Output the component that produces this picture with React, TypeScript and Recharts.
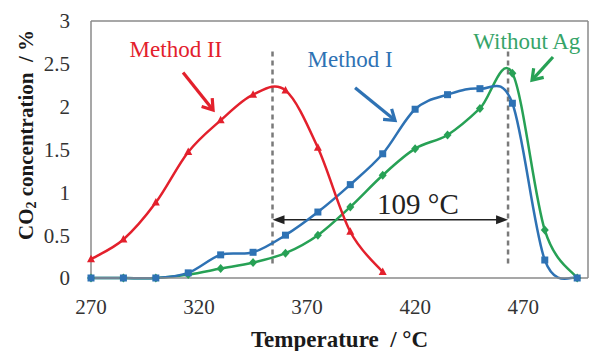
import {
  LineChart,
  Line,
  XAxis,
  YAxis,
  ReferenceLine,
  ReferenceDot,
  Label,
} from 'recharts'

const temperatures = [270, 285, 300, 315, 330, 345, 360, 375, 390, 405, 420, 435, 450, 465, 480, 495]
const methodII = [0.22, 0.45, 0.88, 1.47, 1.84, 2.14, 2.19, 1.52, 0.54, 0.07]
const methodI = [0, 0, 0, 0.06, 0.27, 0.3, 0.5, 0.77, 1.09, 1.45, 1.97, 2.14, 2.21, 2.04, 0.21, 0]
const withoutAg = [0, 0, 0, 0.04, 0.11, 0.18, 0.29, 0.5, 0.83, 1.2, 1.51, 1.67, 1.98, 2.39, 0.56, 0]

const xTicks = [270, 320, 370, 420, 470]
const yTicks = [0, 0.5, 1, 1.5, 2, 2.5, 3]

// onset temperatures marked by the dashed lines
const onsetMethodII = 354
const onsetWithoutAg = 463

const RED = '#e3202c'
const BLUE = '#2e72b4'
const GREEN = '#27a155'
const AXIS = '#8a8a8a'
const FONT = '"Liberation Serif", "Times New Roman", serif'
const NB = '\u00a0'

const data = temperatures.map((t, i) => ({
  t,
  m2: methodII[i],
  m1: methodI[i],
  ag: withoutAg[i],
}))

// Excel-like smoothed line (Catmull-Rom through every point)
const smoothCurve = (context: any) => {
  let pts: number[][] = []
  return {
    areaStart() {},
    areaEnd() {},
    lineStart() {
      pts = []
    },
    point(x: number, y: number) {
      pts.push([+x, +y])
    },
    lineEnd() {
      const n = pts.length
      if (!n) return
      context.moveTo(pts[0][0], pts[0][1])
      for (let i = 0; i < n - 1; i++) {
        const p0 = pts[Math.max(i - 1, 0)]
        const p1 = pts[i]
        const p2 = pts[i + 1]
        const p3 = pts[Math.min(i + 2, n - 1)]
        context.bezierCurveTo(
          p1[0] + (p2[0] - p0[0]) / 6,
          p1[1] + (p2[1] - p0[1]) / 6,
          p2[0] - (p3[0] - p1[0]) / 6,
          p2[1] - (p3[1] - p1[1]) / 6,
          p2[0],
          p2[1]
        )
      }
    },
  }
}

const triangleDot = (props: any) => {
  const { cx, cy, key } = props
  if (cx == null || cy == null) return <g key={key} />
  return <polygon key={key} points={`${cx},${cy - 4.5} ${cx + 4},${cy + 3} ${cx - 4},${cy + 3}`} fill={RED} />
}

const squareDot = (props: any) => {
  const { cx, cy, key } = props
  if (cx == null || cy == null) return <g key={key} />
  return <rect key={key} x={cx - 3.5} y={cy - 3.5} width={7} height={7} fill={BLUE} />
}

const diamondDot = (props: any) => {
  const { cx, cy, key } = props
  if (cx == null || cy == null) return <g key={key} />
  return <polygon key={key} points={`${cx},${cy - 4.5} ${cx + 4},${cy} ${cx},${cy + 4.5} ${cx - 4},${cy}`} fill={GREEN} />
}

// open "V" arrow used for the series callouts
const calloutArrow = (color: string) => (props: any) => {
  const { x1, y1, x2, y2 } = props
  const a = Math.atan2(y2 - y1, x2 - x1)
  const len = 12
  const w1x = x2 - len * Math.cos(a - 0.6)
  const w1y = y2 - len * Math.sin(a - 0.6)
  const w2x = x2 - len * Math.cos(a + 0.6)
  const w2y = y2 - len * Math.sin(a + 0.6)
  return (
    <g>
      <line x1={x1} y1={y1} x2={x2 - 2 * Math.cos(a)} y2={y2 - 2 * Math.sin(a)} stroke={color} strokeWidth={3.2} />
      <polyline points={`${w1x},${w1y} ${x2},${y2} ${w2x},${w2y}`} fill="none" stroke={color} strokeWidth={3.2} strokeLinejoin="miter" />
    </g>
  )
}

const doubleArrow = (props: any) => {
  const { x1, y1, x2, y2 } = props
  return (
    <g>
      <line x1={x1 + 6} y1={y1} x2={x2 - 6} y2={y2} stroke="#222" strokeWidth={1.5} />
      <polygon points={`${x1},${y1} ${x1 + 12},${y1 - 4.5} ${x1 + 12},${y1 + 4.5}`} fill="#222" />
      <polygon points={`${x2},${y2} ${x2 - 12},${y2 - 4.5} ${x2 - 12},${y2 + 4.5}`} fill="#222" />
    </g>
  )
}

const yTitle = () => (
  <text
    x={26}
    y={135}
    transform="rotate(-90 26 135)"
    textAnchor="middle"
    dominantBaseline="central"
    fontFamily={FONT}
    fontWeight="bold"
    fontSize={21}
    fill="#1a1a1a"
  >
    CO
    <tspan fontSize={14} dy={5}>2</tspan>
    <tspan dy={-5}>{` concentration${NB}${NB}/${NB}%`}</tspan>
  </text>
)

const annotationStyle = (fill: string, fontSize = 23) => ({ fontFamily: FONT, fontSize, fill })

export default function App() {
  return (
    <div style={{ position: 'absolute', left: 0, top: 0, background: '#fff' }}>
      <LineChart width={589} height={351} data={data} margin={{ top: 21, right: 1, left: 0, bottom: 0 }}>
        <XAxis
          dataKey="t"
          type="number"
          domain={[270, 500]}
          ticks={xTicks}
          height={73}
          tickSize={0}
          tickMargin={21}
          axisLine={{ stroke: AXIS, strokeWidth: 1.5 }}
          tick={{ fontSize: 21, fill: '#333', fontFamily: FONT }}
        >
          <Label
            value={`Temperature${NB}${NB}/${NB}°C`}
            position="insideBottom"
            offset={4}
            style={{ fontFamily: FONT, fontWeight: 'bold', fontSize: 23, fill: '#1a1a1a' }}
          />
        </XAxis>
        <YAxis
          type="number"
          domain={[0, 3]}
          ticks={yTicks}
          width={91}
          tickSize={0}
          tickMargin={21}
          axisLine={{ stroke: AXIS, strokeWidth: 1.5 }}
          tick={{ fontSize: 21, fill: '#333', fontFamily: FONT }}
        >
          <Label content={yTitle} />
        </YAxis>

        <ReferenceLine y={3} stroke={AXIS} strokeWidth={1.5} />
        <ReferenceLine x={500} stroke={AXIS} strokeWidth={1.5} />

        <ReferenceLine
          segment={[{ x: onsetMethodII, y: 0.17 }, { x: onsetMethodII, y: 2.69 }]}
          stroke="#7a7a7a"
          strokeWidth={2.5}
          strokeDasharray="5 4"
        />
        <ReferenceLine
          segment={[{ x: onsetWithoutAg, y: 0.17 }, { x: onsetWithoutAg, y: 2.66 }]}
          stroke="#7a7a7a"
          strokeWidth={2.5}
          strokeDasharray="5 4"
        />
        <ReferenceLine
          segment={[{ x: onsetMethodII, y: 0.68 }, { x: onsetWithoutAg, y: 0.68 }]}
          shape={doubleArrow}
        />

        <Line
          type={smoothCurve as any}
          dataKey="ag"
          stroke={GREEN}
          strokeWidth={2.5}
          dot={diamondDot}
          activeDot={false}
          isAnimationActive={false}
        />
        <Line
          type={smoothCurve as any}
          dataKey="m1"
          stroke={BLUE}
          strokeWidth={2.5}
          dot={squareDot}
          activeDot={false}
          isAnimationActive={false}
        />
        <Line
          type={smoothCurve as any}
          dataKey="m2"
          stroke={RED}
          strokeWidth={2.5}
          dot={triangleDot}
          activeDot={false}
          isAnimationActive={false}
        />

        <ReferenceLine segment={[{ x: 312.6, y: 2.4 }, { x: 326.5, y: 1.96 }]} shape={calloutArrow(RED)} />
        <ReferenceLine segment={[{ x: 392.2, y: 2.22 }, { x: 410.7, y: 1.84 }]} shape={calloutArrow(BLUE)} />
        <ReferenceLine segment={[{ x: 483.8, y: 2.58 }, { x: 474.1, y: 2.31 }]} shape={calloutArrow(GREEN)} />

        <ReferenceDot x={309.3} y={2.67} r={0} fill="none" stroke="none">
          <Label value="Method II" position="center" style={annotationStyle(RED)} />
        </ReferenceDot>
        <ReferenceDot x={389.9} y={2.556} r={0} fill="none" stroke="none">
          <Label value="Method I" position="center" style={annotationStyle(BLUE)} />
        </ReferenceDot>
        <ReferenceDot x={471.7} y={2.77} r={0} fill="none" stroke="none">
          <Label value="Without Ag" position="center" style={annotationStyle('#35a468')} />
        </ReferenceDot>
        <ReferenceDot x={421.3} y={0.864} r={0} fill="none" stroke="none">
          <Label value={`109${NB}°C`} position="center" style={annotationStyle('#222', 29)} />
        </ReferenceDot>
      </LineChart>
    </div>
  )
}
